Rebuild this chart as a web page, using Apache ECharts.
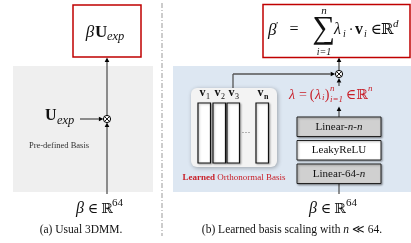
<!DOCTYPE html>
<html>
<head>
<meta charset="utf-8">
<script src="https://cdn.jsdelivr.net/npm/echarts@6/dist/echarts.min.js"></script>
<style>
  html, body { margin: 0; padding: 0; background: #fff; }
  #chart { width: 411px; height: 243px; }
</style>
</head>
<body>
<div id="chart"></div>
<script>
// texts of the figure
const layerNames = ['Linear-n-n', 'LeakyReLU', 'Linear-64-n'];
const vectorSubs = ['1', '2', '3', 'n'];
const basisNames = ['Pre-defined Basis', 'Learned Orthonormal Basis'];
const captions = ['(a) Usual 3DMM.', '(b) Learned basis scaling with n \u226A 64.'];

const SERIF = '"Liberation Serif", "DejaVu Serif", serif';
const RED = '#c00000';
const RED_TXT = '#c8202a';
const LINE = '#555';

let chart = echarts.init(document.getElementById('chart'));

// italic n inside plain text
function italN(s) { return s.replace(/\bn\b/g, '{i|n}'); }

function renderItem(params, api) {
  const P = (x, y) => api.coord([x, y]);
  const ch = [];

  function rect(x1, y1, x2, y2, style, r) {
    const a = P(x1, y1), b = P(x2, y2);
    ch.push({ type: 'rect', shape: { x: a[0], y: a[1], width: b[0] - a[0], height: b[1] - a[1], r: r || 0 }, style });
  }
  function line(x1, y1, x2, y2, style) {
    const a = P(x1, y1), b = P(x2, y2);
    ch.push({ type: 'line', shape: { x1: a[0], y1: a[1], x2: b[0], y2: b[1] }, style: Object.assign({ stroke: LINE, lineWidth: 1.3 }, style) });
  }
  function arrow(x1, y1, x2, y2) {
    const a = P(x1, y1), b = P(x2, y2);
    const dx = b[0] - a[0], dy = b[1] - a[1];
    const L = Math.sqrt(dx * dx + dy * dy), ux = dx / L, uy = dy / L;
    const hl = 4.5, hw = 2.3;
    const bx = b[0] - ux * hl, by = b[1] - uy * hl;
    ch.push({ type: 'line', shape: { x1: a[0], y1: a[1], x2: bx, y2: by }, style: { stroke: LINE, lineWidth: 1.3 } });
    ch.push({ type: 'polygon', shape: { points: [[b[0], b[1]], [bx - uy * hw, by + ux * hw], [bx + uy * hw, by - ux * hw]] }, style: { fill: '#000' } });
  }
  function otimes(x, y) {
    const c = P(x, y), r = 3.6, d = r * 0.7;
    ch.push({ type: 'circle', shape: { cx: c[0], cy: c[1], r }, style: { fill: '#fff', stroke: '#000', lineWidth: 1 } });
    ch.push({ type: 'line', shape: { x1: c[0] - d, y1: c[1] - d, x2: c[0] + d, y2: c[1] + d }, style: { stroke: '#000', lineWidth: 0.9 } });
    ch.push({ type: 'line', shape: { x1: c[0] - d, y1: c[1] + d, x2: c[0] + d, y2: c[1] - d }, style: { stroke: '#000', lineWidth: 0.9 } });
  }
  function txt(s, x, y, size, o) {
    o = o || {};
    const p = P(x, y);
    ch.push({
      type: 'text',
      style: {
        text: s, x: p[0], y: p[1],
        fontSize: size, fontFamily: o.f || SERIF,
        fontStyle: o.it ? 'italic' : 'normal', fontWeight: o.b ? 'bold' : 'normal',
        fill: o.c || '#111', align: o.a || 'center', verticalAlign: 'middle',
        textAlign: o.a || 'center', textVerticalAlign: 'middle',
        rich: o.rich
      }
    });
  }

  // ---------- (a) usual 3DMM ----------
  rect(13, 66, 153, 192, { fill: '#efefef' });
  rect(73, 5, 141, 57, { fill: '#fff', stroke: RED, lineWidth: 1.5 });
  txt('\u03B2', 90, 33, 17, { it: true });
  txt('U', 95, 33, 17, { b: true, a: 'left' });
  txt('exp', 107, 37, 12.5, { it: true, a: 'left' });

  line(107, 194, 107, 127);
  arrow(107, 127, 107, 122.5);
  arrow(107, 115.5, 107, 57.5);
  arrow(80, 119, 103.4, 119);
  otimes(107, 119);
  txt('U', 45, 116, 16, { b: true, a: 'left' });
  txt('exp', 57, 121, 12.5, { it: true, a: 'left' });
  txt(basisNames[0], 59, 146, 8.5, { c: '#333' });

  txt('\u03B2', 80, 209, 16, { it: true });
  txt('\u2208', 93, 209, 14);
  txt('\u211D', 107, 209, 14);
  txt('64', 112, 203, 11, { a: 'left' });
  txt(captions[0], 81, 230, 11.5);

  // divider
  line(162, 3, 162, 236, { stroke: '#999', lineWidth: 1, lineDash: [5, 2, 1, 2] });

  // ---------- (b) learned basis ----------
  rect(173, 66, 411, 192, { fill: '#dde7f2' });
  rect(263, 4.5, 410, 57.5, { fill: '#fff', stroke: RED, lineWidth: 1.5 });
  txt('\u03B2', 268, 31, 17, { it: true, a: 'left' });
  txt('\u2032', 276, 26, 11, { a: 'left' });
  txt('=', 294, 30, 16);
  txt('\u2211', 324, 30, 32);
  txt('n', 324, 11, 11, { it: true });
  txt('i=1', 324, 52, 10, { it: true });
  txt('\u03BB', 334, 30, 16, { it: true, a: 'left' });
  txt('i', 343, 34, 10, { it: true, a: 'left' });
  txt('\u00B7', 351, 30, 14);
  txt('v', 355, 30, 16, { b: true, a: 'left' });
  txt('i', 364, 34, 10, { it: true, a: 'left' });
  txt('\u2208', 376, 30, 15);
  txt('\u211D', 387, 30, 15);
  txt('d', 393, 24, 11, { it: true, a: 'left' });

  // merge point
  arrow(339, 70, 339, 57.5);
  line(233, 88, 233, 74);
  arrow(233, 74, 335.2, 74);
  arrow(339, 86, 339, 78);
  otimes(339, 74);

  // lambda
  txt('\u03BB', 292, 95, 14, { it: true, c: RED_TXT });
  txt('=', 303, 95, 14, { c: RED_TXT });
  txt('(', 312, 95, 14, { c: RED_TXT });
  txt('\u03BB', 315, 95, 14, { it: true, c: RED_TXT, a: 'left' });
  txt('i', 322, 98, 9, { it: true, c: RED_TXT, a: 'left' });
  txt(')', 327, 95, 14, { c: RED_TXT });
  txt('n', 330, 89, 9, { it: true, c: RED_TXT, a: 'left' });
  txt('i=1', 330, 100, 9, { it: true, c: RED_TXT, a: 'left' });
  txt('\u2208', 351, 95, 14, { c: RED_TXT });
  txt('\u211D', 362, 95, 14, { c: RED_TXT });
  txt('n', 368, 89, 9, { it: true, c: RED_TXT, a: 'left' });

  // MLP
  line(339, 194, 339, 184);
  arrow(339, 117, 339, 106.5);
  const layerFill = ['#d0d0d0', '#ffffff', '#d0d0d0'];
  const layerTop = [117, 140.5, 164];
  layerNames.forEach((nm, k) => {
    rect(297, layerTop[k], 381, layerTop[k] + 19.5, {
      fill: layerFill[k], stroke: '#222', lineWidth: 1,
      shadowBlur: 2, shadowColor: 'rgba(0,0,0,0.35)', shadowOffsetX: 1, shadowOffsetY: 1
    });
    txt(italN(nm), 339, layerTop[k] + 10, 11, {
      rich: { i: { fontStyle: 'italic', fontSize: 11, fontFamily: SERIF, fill: '#111' } }
    });
  });

  // learned basis
  rect(191, 88, 277, 167, {
    fill: '#f3f3f3', shadowBlur: 4, shadowColor: 'rgba(0,0,0,0.3)', shadowOffsetX: 1, shadowOffsetY: 1
  }, 6);
  const barX = [198, 213, 227, 256];
  vectorSubs.forEach((s, k) => {
    rect(barX[k], 103, barX[k] + 12.5, 163, {
      fill: '#fff', stroke: '#111', lineWidth: 1.2,
      shadowBlur: 2, shadowColor: 'rgba(0,0,0,0.25)', shadowOffsetX: 1, shadowOffsetY: 1
    });
    txt('v', barX[k] + 1.5, 93, 12, { b: true, a: 'left' });
    txt(s, barX[k] + 8, 97, 8, { b: s === 'n', a: 'left' });
  });
  txt('\u00B7\u00B7\u00B7', 246, 133, 9, { c: '#333' });
  txt('{b|Learned} ' + basisNames[1].split(' ').slice(1).join(' '), 234, 178, 9, {
    c: RED_TXT,
    rich: { b: { fontWeight: 'bold', fontSize: 9, fontFamily: SERIF, fill: RED_TXT } }
  });

  txt('\u03B2', 313, 209, 16, { it: true });
  txt('\u2208', 326, 209, 14);
  txt('\u211D', 340, 209, 14);
  txt('64', 346, 203, 11, { a: 'left' });
  txt(italN(captions[1]), 292, 230, 11.5, {
    rich: { i: { fontStyle: 'italic', fontSize: 11.5, fontFamily: SERIF, fill: '#111' } }
  });

  return { type: 'group', children: ch };
}

chart.setOption({
  animation: false,
  backgroundColor: '#fff',
  grid: { left: 0, right: 0, top: 0, bottom: 0 },
  xAxis: { type: 'value', min: 0, max: 411, show: false },
  yAxis: { type: 'value', min: 0, max: 243, inverse: true, show: false },
  series: [{
    type: 'custom',
    clip: false,
    silent: true,
    data: [[0, 0]],
    encode: { x: 0, y: 1 },
    renderItem
  }]
});
</script>
</body>
</html>
